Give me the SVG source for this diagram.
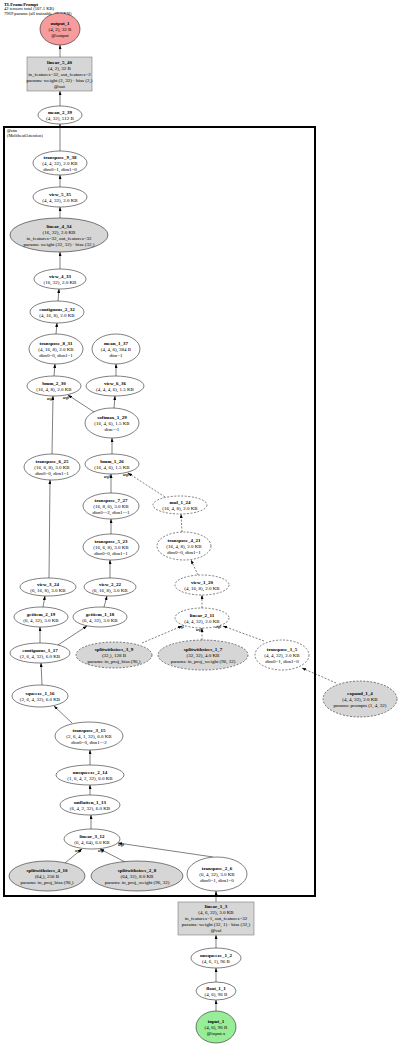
<svg xmlns="http://www.w3.org/2000/svg" width="400" height="1044" viewBox="0 0 400 1044">
<style>
text{font-family:"Liberation Serif","Times New Roman",serif;font-size:5px;text-anchor:middle;fill:#000}
.b{font-weight:bold}
.t{text-anchor:start}
.n{fill:#fff;stroke:#000;stroke-width:0.5}
.g{fill:#d6d6d6}
.d{stroke-dasharray:2,1.5}
.e{stroke:#000;stroke-width:0.5;fill:none;marker-end:url(#a)}
.el{font-size:3px;font-weight:bold}
</style>
<defs>
<marker id="a" markerUnits="userSpaceOnUse" markerWidth="4" markerHeight="3" refX="4" refY="1.5" orient="auto"><path d="M0,0 L4,1.5 L0,3 z" fill="#000"/></marker>
</defs>
<rect width="400" height="1044" fill="#fff"/>
<g id="title">
<text class="t b" x="4" y="5.5" style="font-size:4.6px">TLFramePrompt</text>
<text class="t" x="4" y="10" style="font-size:4.6px">42 tensors total (107.1 KB)</text>
<text class="t" x="4" y="14.5" style="font-size:4.6px">7969 params (all trainable, 29.8 KB)</text>
</g>
<g id="cluster_attn">
<rect x="4" y="127" width="311" height="769" fill="none" stroke="#000" stroke-width="2"/>
<text class="t" x="7" y="132" style="font-size:4.2px">@attn</text>
<text class="t" x="7" y="136.5" style="font-size:4.2px">(MultiheadAttention)</text>
</g>
<g id="edges">
<line class="e" x1="216" y1="1011" x2="216" y2="1000"/>
<line class="e" x1="216" y1="982" x2="216" y2="968"/>
<line class="e" x1="216" y1="948" x2="216" y2="935"/>
<line class="e" x1="216" y1="902" x2="216" y2="891"/>
<line class="e" x1="213" y1="857" x2="118" y2="843"/>
<line class="e" x1="125" y1="862" x2="100" y2="849"/>
<line class="e" x1="65" y1="863" x2="82" y2="849"/>
<line class="e" x1="91" y1="829" x2="91" y2="815"/>
<line class="e" x1="90" y1="795" x2="90" y2="785"/>
<line class="e" x1="90" y1="765" x2="90" y2="750"/>
<line class="e" x1="72" y1="723" x2="54" y2="706"/>
<line class="e" x1="42" y1="685" x2="41" y2="663"/>
<line class="e" x1="40" y1="643" x2="40" y2="627"/>
<line class="e" x1="58" y1="645" x2="87" y2="626"/>
<line class="e" x1="43" y1="607" x2="45" y2="596"/>
<line class="e" x1="104" y1="607" x2="107" y2="596"/>
<line class="e" x1="49" y1="578" x2="50" y2="480"/>
<line class="e" x1="52" y1="454" x2="53" y2="396"/>
<line class="e" x1="110" y1="578" x2="110" y2="560"/>
<line class="e" x1="111" y1="534" x2="111" y2="519"/>
<line class="e" x1="111" y1="493" x2="111" y2="474"/>
<line class="e d" x1="336" y1="683" x2="302" y2="668"/>
<line class="e d" x1="264" y1="641" x2="223" y2="626"/>
<line class="e d" x1="202" y1="640" x2="202" y2="628"/>
<line class="e d" x1="142" y1="643" x2="182" y2="626"/>
<line class="e d" x1="202" y1="608" x2="202" y2="595"/>
<line class="e d" x1="198" y1="575" x2="191" y2="560"/>
<line class="e d" x1="182" y1="532" x2="181" y2="514"/>
<line class="e d" x1="165" y1="497" x2="128" y2="473"/>
<line class="e" x1="112" y1="454" x2="112" y2="438"/>
<line class="e" x1="94" y1="412" x2="68" y2="395"/>
<line class="e" x1="114" y1="408" x2="115" y2="396"/>
<line class="e" x1="116" y1="376" x2="116" y2="364"/>
<line class="e" x1="54" y1="376" x2="55" y2="364"/>
<line class="e" x1="56" y1="334" x2="57" y2="323"/>
<line class="e" x1="58" y1="301" x2="59" y2="289"/>
<line class="e" x1="60" y1="269" x2="60" y2="252"/>
<line class="e" x1="60" y1="218" x2="60" y2="207"/>
<line class="e" x1="60" y1="187" x2="60" y2="175"/>
<line class="e" x1="60" y1="151" x2="60" y2="124"/>
<line class="e" x1="60" y1="106" x2="60" y2="91"/>
<line class="e" x1="60" y1="57" x2="60" y2="45"/>
<text class="el" x="50" y="399.5">arg1</text>
<text class="el" x="66" y="398.5">arg0</text>
<text class="el" x="107" y="477.5">arg1</text>
<text class="el" x="126" y="475.5">arg0</text>
<text class="el" x="181" y="628">arg2</text>
<text class="el" x="199" y="631">arg1</text>
<text class="el" x="218" y="628">arg0</text>
<text class="el" x="78" y="851.5">arg2</text>
<text class="el" x="101" y="851.5">arg1</text>
<text class="el" x="121" y="846">arg0</text>
</g>
<g id="output_1"><ellipse class="n" cx="60" cy="29" rx="20" ry="16" style="fill:#f79c9c"/><text class="b" x="60" y="24.7">output_1</text><text x="60" y="30.7">(4, 2), 32 B</text><text x="60" y="36.7">@output</text></g>
<g id="linear_5_40"><rect class="n g" x="27" y="57" width="65" height="34" style="stroke:#666"/><text class="b" x="59.5" y="63.7">linear_5_40</text><text x="59.5" y="69.7">(4, 2), 32 B</text><text x="59.5" y="75.7">in_features=32, out_features=2</text><text x="59.5" y="81.7">params: weight (2, 32) · bias (2,)</text><text x="59.5" y="87.7">@out</text></g>
<g id="mean_2_39"><ellipse class="n" cx="60" cy="115" rx="22" ry="9"/><text class="b" x="60" y="113.7">mean_2_39</text><text x="60" y="119.7">(4, 32), 512 B</text></g>
<g id="transpose_9_38"><ellipse class="n" cx="60" cy="163" rx="27" ry="12"/><text class="b" x="60" y="158.7">transpose_9_38</text><text x="60" y="164.7">(4, 4, 32), 2.0 KB</text><text x="60" y="170.7">dim0=1, dim1=0</text></g>
<g id="view_5_35"><ellipse class="n" cx="60" cy="197" rx="27" ry="10"/><text class="b" x="60" y="195.7">view_5_35</text><text x="60" y="201.7">(4, 4, 32), 2.0 KB</text></g>
<g id="linear_4_34"><ellipse class="n g" cx="59" cy="235" rx="49" ry="17"/><text class="b" x="59" y="227.7">linear_4_34</text><text x="59" y="233.7">(16, 32), 2.0 KB</text><text x="59" y="239.7">in_features=32, out_features=32</text><text x="59" y="245.7">params: weight (32, 32) · bias (32,)</text></g>
<g id="view_4_33"><ellipse class="n" cx="60" cy="279" rx="26" ry="10"/><text class="b" x="60" y="277.7">view_4_33</text><text x="60" y="283.7">(16, 32), 2.0 KB</text></g>
<g id="contiguous_2_32"><ellipse class="n" cx="57" cy="312" rx="27" ry="11"/><text class="b" x="57" y="310.7">contiguous_2_32</text><text x="57" y="316.7">(4, 16, 8), 2.0 KB</text></g>
<g id="transpose_8_31"><ellipse class="n" cx="56" cy="349" rx="27" ry="15"/><text class="b" x="56" y="344.7">transpose_8_31</text><text x="56" y="350.7">(4, 16, 8), 2.0 KB</text><text x="56" y="356.7">dim0=0, dim1=1</text></g>
<g id="bmm_2_30"><ellipse class="n" cx="54" cy="386" rx="27" ry="10"/><text class="b" x="54" y="384.7">bmm_2_30</text><text x="54" y="390.7">(16, 4, 8), 2.0 KB</text></g>
<g id="mean_1_37"><ellipse class="n" cx="116" cy="349" rx="24" ry="15"/><text class="b" x="116" y="344.7">mean_1_37</text><text x="116" y="350.7">(4, 4, 6), 384 B</text><text x="116" y="356.7">dim=1</text></g>
<g id="view_6_36"><ellipse class="n" cx="115" cy="386" rx="29" ry="10"/><text class="b" x="115" y="384.7">view_6_36</text><text x="115" y="390.7">(4, 4, 4, 6), 1.5 KB</text></g>
<g id="softmax_1_29"><ellipse class="n" cx="112" cy="423" rx="27" ry="15"/><text class="b" x="112" y="418.7">softmax_1_29</text><text x="112" y="424.7">(16, 4, 6), 1.5 KB</text><text x="112" y="430.7">dim=-1</text></g>
<g id="bmm_1_26"><ellipse class="n" cx="112" cy="464" rx="27" ry="10"/><text class="b" x="112" y="462.7">bmm_1_26</text><text x="112" y="468.7">(16, 4, 6), 1.5 KB</text></g>
<g id="transpose_6_25"><ellipse class="n" cx="52" cy="467" rx="28" ry="13"/><text class="b" x="52" y="462.7">transpose_6_25</text><text x="52" y="468.7">(16, 6, 8), 3.0 KB</text><text x="52" y="474.7">dim0=0, dim1=1</text></g>
<g id="transpose_7_27"><ellipse class="n" cx="111" cy="506" rx="28" ry="13"/><text class="b" x="111" y="501.7">transpose_7_27</text><text x="111" y="507.7">(16, 8, 6), 3.0 KB</text><text x="111" y="513.7">dim0=-2, dim1=-1</text></g>
<g id="mul_1_24"><ellipse class="n d" cx="180" cy="505" rx="27" ry="9"/><text class="b" x="180" y="503.7">mul_1_24</text><text x="180" y="509.7">(16, 4, 8), 2.0 KB</text></g>
<g id="transpose_5_23"><ellipse class="n" cx="111" cy="547" rx="28" ry="13"/><text class="b" x="111" y="542.7">transpose_5_23</text><text x="111" y="548.7">(16, 6, 8), 3.0 KB</text><text x="111" y="554.7">dim0=0, dim1=1</text></g>
<g id="transpose_4_21"><ellipse class="n d" cx="184" cy="546" rx="27" ry="14"/><text class="b" x="184" y="541.7">transpose_4_21</text><text x="184" y="547.7">(16, 4, 8), 2.0 KB</text><text x="184" y="553.7">dim0=0, dim1=1</text></g>
<g id="view_3_24"><ellipse class="n" cx="48" cy="587" rx="28" ry="9"/><text class="b" x="48" y="585.7">view_3_24</text><text x="48" y="591.7">(6, 16, 8), 3.0 KB</text></g>
<g id="view_2_22"><ellipse class="n" cx="110" cy="587" rx="26" ry="9"/><text class="b" x="110" y="585.7">view_2_22</text><text x="110" y="591.7">(6, 16, 8), 3.0 KB</text></g>
<g id="view_1_20"><ellipse class="n d" cx="202" cy="585" rx="27" ry="10"/><text class="b" x="202" y="583.7">view_1_20</text><text x="202" y="589.7">(4, 16, 8), 2.0 KB</text></g>
<g id="getitem_2_19"><ellipse class="n" cx="41" cy="617" rx="27" ry="10"/><text class="b" x="41" y="615.7">getitem_2_19</text><text x="41" y="621.7">(6, 4, 32), 3.0 KB</text></g>
<g id="getitem_1_18"><ellipse class="n" cx="100" cy="617" rx="27" ry="10"/><text class="b" x="100" y="615.7">getitem_1_18</text><text x="100" y="621.7">(6, 4, 32), 3.0 KB</text></g>
<g id="linear_2_11"><ellipse class="n d" cx="202" cy="618" rx="27" ry="10"/><text class="b" x="202" y="616.7">linear_2_11</text><text x="202" y="622.7">(4, 4, 32), 2.0 KB</text></g>
<g id="contiguous_1_17"><ellipse class="n" cx="40" cy="653" rx="30" ry="10"/><text class="b" x="40" y="651.7">contiguous_1_17</text><text x="40" y="657.7">(2, 6, 4, 32), 6.0 KB</text></g>
<g id="splitwithsizes_3_9"><ellipse class="n g d" cx="114" cy="655" rx="38" ry="13"/><text class="b" x="114" y="650.7">splitwithsizes_3_9</text><text x="114" y="656.7">(32,), 128 B</text><text x="114" y="662.7">params: in_proj_bias (96,)</text></g>
<g id="splitwithsizes_1_7"><ellipse class="n g d" cx="203" cy="655" rx="45" ry="15"/><text class="b" x="203" y="650.7">splitwithsizes_1_7</text><text x="203" y="656.7">(32, 32), 4.0 KB</text><text x="203" y="662.7">params: in_proj_weight (96, 32)</text></g>
<g id="transpose_1_5"><ellipse class="n d" cx="282" cy="655" rx="27" ry="15"/><text class="b" x="282" y="650.7">transpose_1_5</text><text x="282" y="656.7">(4, 4, 32), 2.0 KB</text><text x="282" y="662.7">dim0=1, dim1=0</text></g>
<g id="expand_1_4"><ellipse class="n g d" cx="360" cy="699" rx="37" ry="18"/><text class="b" x="360" y="694.7">expand_1_4</text><text x="360" y="700.7">(4, 4, 32), 2.0 KB</text><text x="360" y="706.7">params: prompts (1, 4, 32)</text></g>
<g id="squeeze_1_16"><ellipse class="n" cx="40" cy="696" rx="28" ry="11"/><text class="b" x="40" y="694.7">squeeze_1_16</text><text x="40" y="700.7">(2, 6, 4, 32), 6.0 KB</text></g>
<g id="transpose_3_15"><ellipse class="n" cx="89" cy="736" rx="34" ry="14"/><text class="b" x="89" y="731.7">transpose_3_15</text><text x="89" y="737.7">(2, 6, 4, 1, 32), 6.0 KB</text><text x="89" y="743.7">dim0=0, dim1=-2</text></g>
<g id="unsqueeze_2_14"><ellipse class="n" cx="90" cy="775" rx="34" ry="10"/><text class="b" x="90" y="773.7">unsqueeze_2_14</text><text x="90" y="779.7">(1, 6, 4, 2, 32), 6.0 KB</text></g>
<g id="unflatten_1_13"><ellipse class="n" cx="90" cy="805" rx="30" ry="10"/><text class="b" x="90" y="803.7">unflatten_1_13</text><text x="90" y="809.7">(6, 4, 2, 32), 6.0 KB</text></g>
<g id="linear_3_12"><ellipse class="n" cx="92" cy="839" rx="28" ry="10"/><text class="b" x="92" y="837.7">linear_3_12</text><text x="92" y="843.7">(6, 4, 64), 6.0 KB</text></g>
<g id="splitwithsizes_4_10"><ellipse class="n g" cx="47" cy="876" rx="38" ry="15"/><text class="b" x="47" y="871.7">splitwithsizes_4_10</text><text x="47" y="877.7">(64,), 256 B</text><text x="47" y="883.7">params: in_proj_bias (96,)</text></g>
<g id="splitwithsizes_2_8"><ellipse class="n g" cx="137" cy="876" rx="46" ry="15"/><text class="b" x="137" y="871.7">splitwithsizes_2_8</text><text x="137" y="877.7">(64, 32), 8.0 KB</text><text x="137" y="883.7">params: in_proj_weight (96, 32)</text></g>
<g id="transpose_2_6"><ellipse class="n" cx="217" cy="874" rx="30" ry="17"/><text class="b" x="217" y="869.7">transpose_2_6</text><text x="217" y="875.7">(6, 4, 32), 3.0 KB</text><text x="217" y="881.7">dim0=1, dim1=0</text></g>
<g id="linear_1_3"><rect class="n g" x="178" y="902" width="76" height="33" style="stroke:#666"/><text class="b" x="216" y="908.2">linear_1_3</text><text x="216" y="914.2">(4, 6, 32), 3.0 KB</text><text x="216" y="920.2">in_features=1, out_features=32</text><text x="216" y="926.2">params: weight (32, 1) · bias (32,)</text><text x="216" y="932.2">@val</text></g>
<g id="unsqueeze_1_2"><ellipse class="n" cx="216" cy="958" rx="25" ry="10"/><text class="b" x="216" y="956.7">unsqueeze_1_2</text><text x="216" y="962.7">(4, 6, 1), 96 B</text></g>
<g id="float_1_1"><ellipse class="n" cx="216" cy="991" rx="20" ry="9"/><text class="b" x="216" y="989.7">float_1_1</text><text x="216" y="995.7">(4, 6), 96 B</text></g>
<g id="input_1"><ellipse class="n" cx="216" cy="1027" rx="20" ry="16" style="fill:#98ee98"/><text class="b" x="216" y="1022.7">input_1</text><text x="216" y="1028.7">(4, 6), 96 B</text><text x="216" y="1034.7">@input.x</text></g>
</svg>
